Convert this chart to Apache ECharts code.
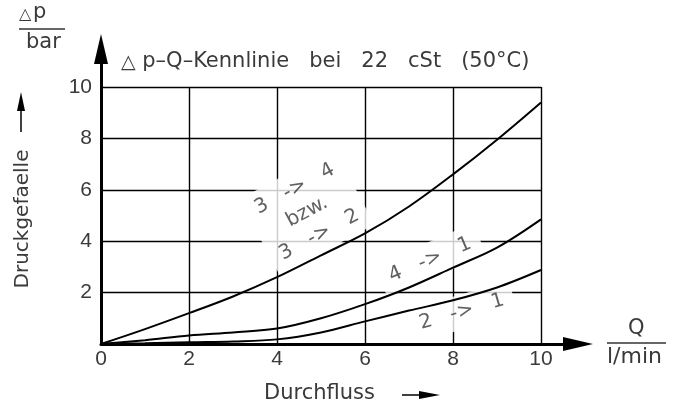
<!DOCTYPE html>
<html>
<head>
<meta charset="utf-8">
<script src="https://cdn.jsdelivr.net/npm/echarts@6/dist/echarts.min.js"></script>
<style>
html,body{margin:0;padding:0;background:#fff}
#main{width:682px;height:406px}
</style>
</head>
<body>
<div id="main"></div>
<script>
// Druckgefaelle ueber Durchfluss
var flowQ = [0, 1, 2, 3, 4, 5, 6, 7, 8, 9, 10];
var dp34 = [0, 0.58, 1.2, 1.85, 2.6, 3.45, 4.3, 5.35, 6.6, 7.95, 9.4];
var dp41 = [0, 0.15, 0.33, 0.45, 0.6, 1.0, 1.55, 2.2, 2.97, 3.75, 4.85];
var dp21 = [0, 0.03, 0.07, 0.1, 0.18, 0.45, 0.88, 1.3, 1.7, 2.2, 2.88];
var tickLabels = ['0', '2', '4', '6', '8', '10'];
var curveNames = ['3   ->   4\nbzw.\n3   ->   2', '4   ->   1', '2   ->   1'];
var curveLabelQ = [4.68, 7.48, 8.2];
var curveLabelP = [5.14, 3.27, 1.25];

var FONT = '"DejaVu Sans", sans-serif';
var TICKFONT = '"Liberation Sans", Arial, sans-serif';
var TXT = '#3a3a3a';

function pairs(xs, ys) {
    return xs.map(function (x, i) { return [x, ys[i]]; });
}

var labelRot = [28, 23, 16];
var labelData = curveNames.map(function (n, i) {
    return {
        name: n,
        value: [curveLabelQ[i], curveLabelP[i]],
        label: { rotate: labelRot[i] }
    };
});

function curve(data) {
    return {
        type: 'line',
        xAxisIndex: 0,
        yAxisIndex: 0,
        data: data,
        smooth: 0.35,
        showSymbol: false,
        silent: true,
        z: 3,
        lineStyle: { color: '#000', width: 2 }
    };
}

var chart = echarts.init(document.getElementById('main'));

var option = {
    animation: false,
    backgroundColor: '#fff',
    title: {
        text: '{t|\u25B3} p\u2013Q\u2013Kennlinie   bei   22   cSt   (50\u00B0C)',
        left: 121,
        top: 50,
        padding: 0,
        textStyle: {
            fontFamily: FONT, fontSize: 21, fontWeight: 'normal', color: TXT,
            rich: { t: { fontFamily: FONT, fontSize: 19, color: TXT, padding: [4, 0, 0, 0] } }
        }
    },
    grid: [
        { left: 101, right: 141, top: 87, bottom: 62 },
        { left: 101, right: 104, top: 49, bottom: 62 }
    ],
    xAxis: [
        {
            type: 'value', gridIndex: 0, min: 0, max: 10, interval: 2,
            axisLine: { show: false },
            axisTick: { show: false },
            axisLabel: {
                margin: 5, fontFamily: TICKFONT, fontSize: 21, color: TXT,
                formatter: function (v) { return tickLabels[Math.round(v / 2)]; }
            },
            splitLine: { show: true, lineStyle: { color: '#000', width: 1.4 } }
        },
        {
            type: 'value', gridIndex: 1, min: 0, max: 1,
            axisLine: { show: true, symbol: ['none', 'triangle'], symbolSize: [14, 30], lineStyle: { color: '#000', width: 3 } },
            axisTick: { show: false }, axisLabel: { show: false }, splitLine: { show: false }
        }
    ],
    yAxis: [
        {
            type: 'value', gridIndex: 0, min: 0, max: 10, interval: 2,
            axisLine: { show: false },
            axisTick: { show: false },
            axisLabel: {
                margin: 9, fontFamily: TICKFONT, fontSize: 21, color: TXT,
                formatter: function (v) { return v === 0 ? '' : tickLabels[Math.round(v / 2)]; }
            },
            splitLine: { show: true, lineStyle: { color: '#000', width: 1.4 } }
        },
        {
            type: 'value', gridIndex: 1, min: 0, max: 1,
            axisLine: { show: true, symbol: ['none', 'triangle'], symbolSize: [14, 30], lineStyle: { color: '#000', width: 3 } },
            axisTick: { show: false }, axisLabel: { show: false }, splitLine: { show: false }
        }
    ],
    series: [
        curve(pairs(flowQ, dp34)),
        curve(pairs(flowQ, dp41)),
        curve(pairs(flowQ, dp21)),
        {
            type: 'scatter',
            xAxisIndex: 0,
            yAxisIndex: 0,
            symbolSize: 0,
            silent: true,
            z: 2,
            data: labelData,
            label: {
                show: true,
                position: 'inside',
                formatter: '{b}',
                fontFamily: FONT,
                fontSize: 20,
                lineHeight: 26,
                color: TXT,
                align: 'center',
                verticalAlign: 'middle',
                backgroundColor: '#fff',
                padding: [4, 10]
            }
        }
    ],
    graphic: [
        // Δp / bar
        { type: 'text', left: 19, top: 7, style: { text: '\u25B3', font: '16px ' + FONT, fill: TXT } },
        { type: 'text', left: 33, top: 2, style: { text: 'p', font: '21px ' + FONT, fill: TXT } },
        { type: 'line', shape: { x1: 19, y1: 29, x2: 65, y2: 29 }, style: { stroke: '#333', lineWidth: 1.3 } },
        { type: 'text', left: 26, top: 32, style: { text: 'bar', font: '21px ' + FONT, fill: TXT } },
        // Q / l/min
        { type: 'text', left: 628, top: 318, style: { text: 'Q', font: '21px ' + FONT, fill: TXT } },
        { type: 'line', shape: { x1: 607, y1: 343, x2: 666, y2: 343 }, style: { stroke: '#333', lineWidth: 1.3 } },
        { type: 'text', left: 607, top: 346, style: { text: 'l/min', font: '22px ' + FONT, fill: TXT } },
        // Druckgefaelle
        {
            type: 'text', x: 23, y: 219, rotation: Math.PI / 2,
            style: { text: 'Druckgefaelle', font: '20px ' + FONT, fill: TXT, align: 'center', verticalAlign: 'middle' }
        },
        { type: 'line', shape: { x1: 21, y1: 132, x2: 21, y2: 105 }, style: { stroke: '#000', lineWidth: 1.5 } },
        { type: 'polygon', shape: { points: [[21, 92], [17, 111], [25, 111]] }, style: { fill: '#000' } },
        // Durchfluss
        { type: 'text', left: 264, top: 383, style: { text: 'Durchfluss', font: '21px ' + FONT, fill: TXT } },
        { type: 'line', shape: { x1: 402, y1: 395, x2: 425, y2: 395 }, style: { stroke: '#000', lineWidth: 1.5 } },
        { type: 'polygon', shape: { points: [[440, 395], [419, 391], [419, 399]] }, style: { fill: '#000' } }
    ]
};

chart.setOption(option);
</script>
</body>
</html>
